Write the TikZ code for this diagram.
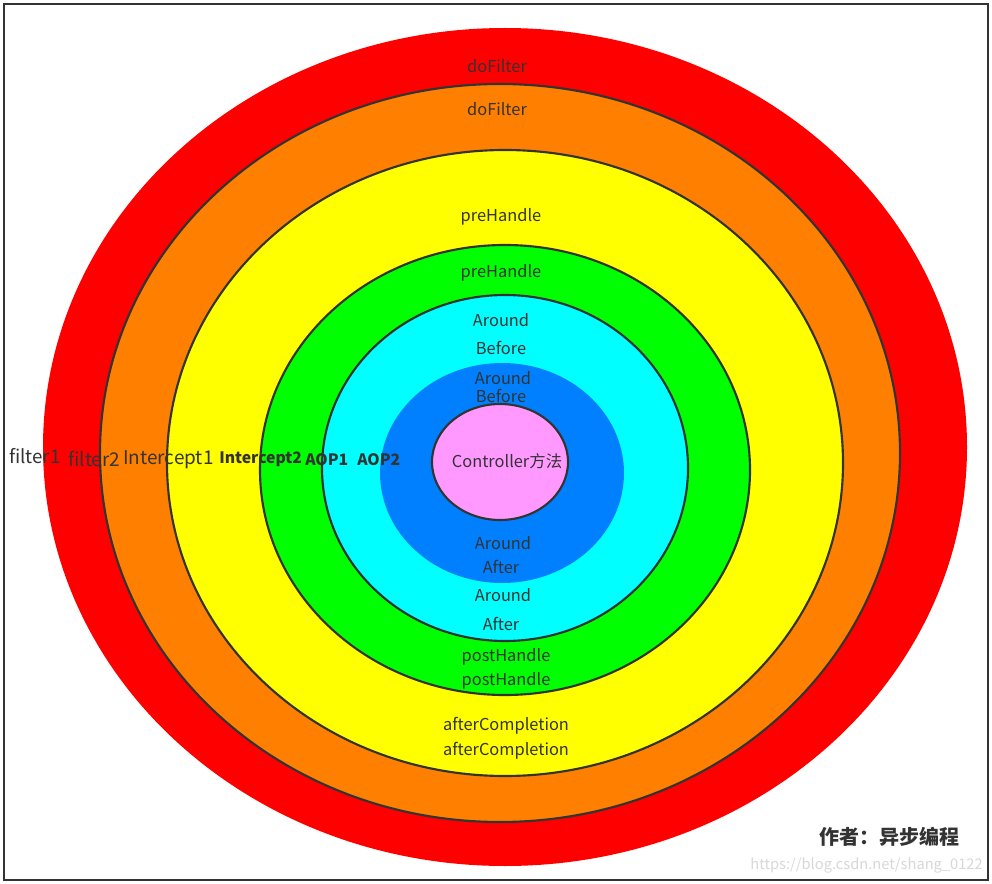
\documentclass[tikz,border=0pt]{standalone}
\usepackage{fontspec}
\setmainfont{Noto Sans CJK SC}
\definecolor{ring1}{HTML}{FF0000}
\definecolor{ring2}{HTML}{FF8000}
\definecolor{ring3}{HTML}{FFFF00}
\definecolor{ring4}{HTML}{00FF00}
\definecolor{ring5}{HTML}{00FFFF}
\definecolor{ring6}{HTML}{0080FF}
\definecolor{ring7}{HTML}{FF99FF}
\definecolor{ink}{HTML}{333333}
\definecolor{wm}{HTML}{D8D8D8}
\tikzset{
  edge/.style={draw=ink, line width=1.6pt},
  lbl/.style={text=ink, font=\fontsize{12.3}{14}\selectfont, inner sep=0pt, yshift=-1.5pt},
  side/.style={text=ink, font=\fontsize{14.2}{16}\selectfont, inner sep=0pt, yshift=-1pt},
  sideb/.style={text=ink, font=\fontsize{11.8}{13}\selectfont\bfseries, inner sep=0pt, yshift=-1pt},
}
\begin{document}
\begin{tikzpicture}[x=0.75pt,y=-0.75pt]
\useasboundingbox (0,0) rectangle (992,884);
\fill[white] (0,0) rectangle (992,884);
\draw[draw=ink, line width=2.2pt] (4,4) rectangle (988,880);
% rings
\fill[ring1] (505,447) ellipse [x radius=462, y radius=419];
\filldraw[fill=ring2, edge] (500,453) ellipse [x radius=400, y radius=369];
\filldraw[fill=ring3, edge] (505,463) ellipse [x radius=338, y radius=313];
\filldraw[fill=ring4, edge] (505,470) ellipse [x radius=245, y radius=225];
\filldraw[fill=ring5, edge] (505,468) ellipse [x radius=183, y radius=173];
\fill[ring6] (502,473) ellipse [x radius=122, y radius=110];
\filldraw[fill=ring7, edge] (500,462) ellipse [x radius=68, y radius=58];
% labels
\node[lbl] (df1) at (497,64) {doFilter};
\node[lbl] (df2) at (497,107) {doFilter};
\node[lbl] (ph1) at (501,215) {preHandle};
\node[lbl] (ph2) at (501,271) {preHandle};
\node[lbl] (ab1a) at (501,318) {Around};
\node[lbl] (ab1b) at (501,346) {Before};
\node[lbl] (ab2a) at (503,376) {Around};
\node[lbl] (ab2b) at (501,394) {Before};
\node[lbl] (ctl) at (507,459) {Controller方法};
\node[lbl] (aa1a) at (503,541) {Around};
\node[lbl] (aa1b) at (501,565) {After};
\node[lbl] (aa2a) at (503,593) {Around};
\node[lbl] (aa2b) at (501,622) {After};
\node[lbl] (po1) at (506,655) {postHandle};
\node[lbl] (po2) at (506,679) {postHandle};
\node[lbl] (ac1) at (506,724) {afterCompletion};
\node[lbl] (ac2) at (506,749) {afterCompletion};
% side labels
\node[side, anchor=west, font=\fontsize{14}{16}\selectfont] (f1) at (9,455) {filter1};
\node[side, anchor=west] (f2) at (68,458) {filter2};
\node[side, anchor=west] (i1) at (123,458) {Intercept1};
\node[sideb, anchor=west] (i2) at (219,458) {Intercept2};
\node[sideb, anchor=west] (a1) at (305,458) {AOP1};
\node[sideb, anchor=west] (a2) at (357,458) {AOP2};
% author
\node[text=ink, font=\fontsize{15}{17}\selectfont\bfseries, inner sep=0pt] (au) at (889,837) {作者：异步编程};
\node[text=wm, font=\fontsize{11}{12}\selectfont, inner sep=0pt, anchor=east] (url) at (983,865) {https://blog.csdn.net/shang\_0122};
\end{tikzpicture}
\end{document}
